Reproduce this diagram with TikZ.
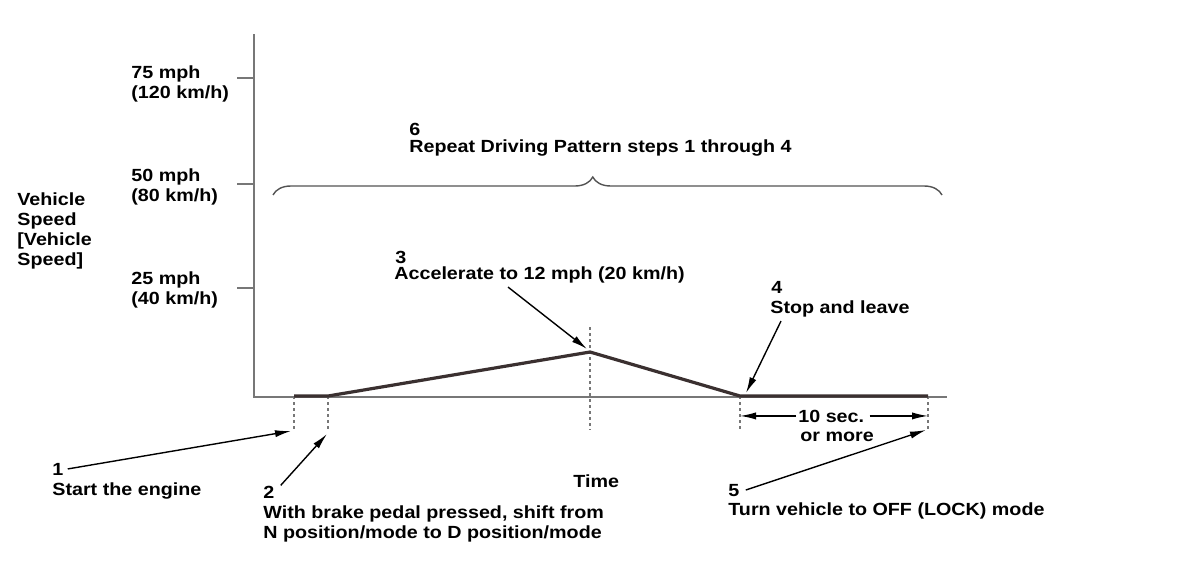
\documentclass[tikz,border=0pt]{standalone}
\usepackage{fontspec}
\setmainfont{Liberation Sans}[FakeStretch=1.12]
\usetikzlibrary{arrows.meta,decorations.pathreplacing}
\definecolor{axisgray}{HTML}{777777}
\definecolor{profile}{HTML}{3A3030}
\tikzset{
	lbl/.style={anchor=base west,inner sep=0pt,align=left,font=\bfseries\fontsize{8.8}{10}\selectfont},
	ptr/.style={-{Latex[length=8pt,width=3.6pt]},line width=0.7pt},
	guide/.style={axisgray,dash pattern=on 1.5pt off 1.5pt,line width=0.6pt},
}
\begin{document}
\begin{tikzpicture}[x=0.5pt,y=-0.5pt]
	\useasboundingbox (0,0) rectangle (1200,562);
	
	\coordinate (O) at (254,397); % origin
	\coordinate (Y) at (254,34);
	\coordinate (X) at (947,397);
	
	\coordinate (E1) at (294,396); % engine on
	\coordinate (E2) at (328,396); % in D
	\coordinate (E3) at (590,352); % 12 mph
	\coordinate (E4) at (740,396); % stop
	\coordinate (E5) at (928,396); % off
	
	% axes and ticks
	\draw[axisgray,line width=1pt] (Y)--(O)--(X);
	\foreach \y in {78,184,288}
		\draw[axisgray,line width=1pt] (237,\y)--(254,\y);
	
	% multi-line labels sit on their last line
	\node[lbl] (s75) at (131,98) {75 mph\\(120 km/h)};
	\node[lbl] (s50) at (131,201) {50 mph\\(80 km/h)};
	\node[lbl] (s25) at (131,304) {25 mph\\(40 km/h)};
	\node[lbl] (vs) at (17,265) {Vehicle\\Speed\\{}[Vehicle\\Speed]};
	\node[lbl] (time) at (573,487) {Time};
	
	% guides
	\draw[guide] (E1)--(294,430);
	\draw[guide] (E2)--(328,431);
	\draw[guide] (590,327)--(590,430);
	\draw[guide] (E4)--(740,431);
	\draw[guide] (E5)--(928,431);
	
	\draw[profile,line width=1.6pt,line join=round] (E1)--(E2)--(E3)--(E4)--(E5);
	
	% repeat brace
	\draw[axisgray!70!black,line width=0.7pt,decorate,
		decoration={brace,amplitude=9pt,aspect=0.478}] (273,195)--(942,195);
	\node[lbl] (n6) at (409,135) {6};
	\node[lbl] (r6) at (409,152) {Repeat Driving Pattern steps 1 through 4};
	
	% steps
	\node[lbl] (n1) at (52,475) {1};
	\node[lbl] (a1) at (52,495) {Start the engine};
	\node[lbl] (n2) at (263,498) {2};
	\node[lbl] (a2) at (263,538) {With brake pedal pressed, shift from\\N position/mode to D position/mode};
	\node[lbl] (n3) at (395,263) {3};
	\node[lbl] (a3) at (394,279) {Accelerate to 12 mph (20 km/h)};
	\node[lbl] (n4) at (771,293) {4};
	\node[lbl] (a4) at (770,313) {Stop and leave};
	\node[lbl] (n5) at (728,496) {5};
	\node[lbl] (a5) at (728,515) {Turn vehicle to OFF (LOCK) mode};
	\node[lbl] (d1) at (798,422) {10 sec.};
	\node[lbl] (d2) at (800,441) {or more};
	
	\draw[ptr] ([xshift=2pt]n1.east) -- (291,431);
	\draw[ptr] ([xshift=3pt]n2.north east) -- (327,434);
	\draw[ptr] ([shift={(57pt,-2pt)}]a3.south west) -- (587,349);
	\draw[ptr] ([shift={(5.5pt,-2pt)}]a4.south west) -- (746,393);
	\draw[ptr] ([xshift=3pt]n5.east) -- (926,430);
	\draw[ptr] ([xshift=-1pt]d1.west) -- (d1.west -| E4);
	\draw[ptr] ([xshift=2.5pt]d1.east) -- (d1.east -| E5);
\end{tikzpicture}
\end{document}
